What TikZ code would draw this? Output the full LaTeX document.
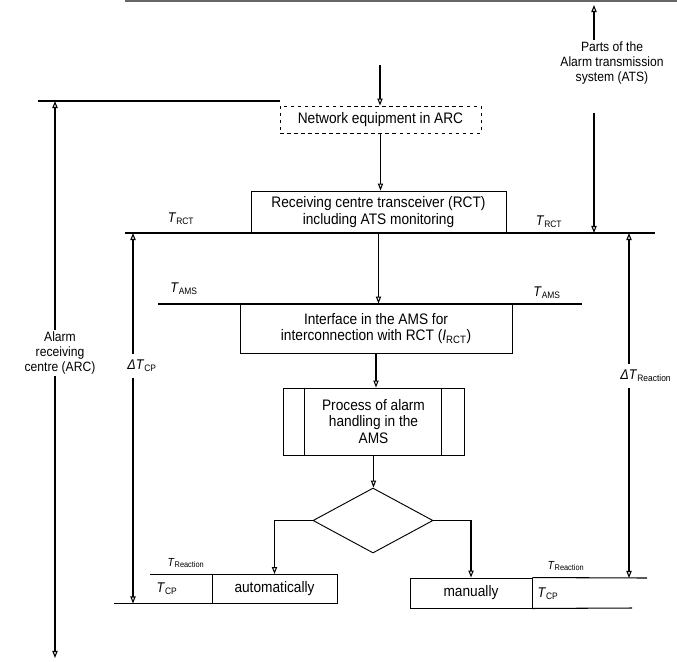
\documentclass[tikz,border=0pt]{standalone}
\usepackage{fontspec}
\setmainfont{Liberation Sans}[FakeStretch=0.9]
\usetikzlibrary{positioning,arrows.meta,shapes.geometric}
\newcommand\Tlab[1]{\textit{T}\textsubscript{#1}}

\begin{document}
\begin{tikzpicture}[x=0.03cm, y=-0.03cm, >={Triangle[open,length=6pt,width=4.5pt]},
    box/.style={draw, line width=0.8pt, align=center, inner sep=2pt, font=\fontsize{13}{14}\selectfont},
    flow/.style={->, line width=0.9pt},
    tline/.style={line width=0.9pt},
    tlab/.style={inner sep=1pt, font=\fontsize{12}{13}\selectfont},
    side/.style={align=center, fill=white, inner sep=1pt, font=\fontsize{11.5}{13}\selectfont}]
  \useasboundingbox (0,0) rectangle (677,661);
  \draw[black!60, line width=2pt] (125,1) -- (677,1);
  % boxes of the chain
  \node[box, dashed, minimum width=6.03cm, minimum height=0.81cm] (net) at (380.5,119.5) {Network equipment in ARC};
  \node[box, minimum width=7.65cm, minimum height=1.26cm] (rct) at (378.5,212) {Receiving centre transceiver (RCT)\\including ATS monitoring};
  \node[box, minimum width=8.16cm, minimum height=1.47cm] (iface) at (376,328.5) {Interface in the AMS for\\interconnection with RCT (\textit{I}\textsubscript{RCT})};
  \node[box, minimum width=5.43cm, minimum height=2.01cm] (proc) at (373.5,421.5) {Process of alarm\\handling in the\\AMS};
  \draw[line width=0.8pt] ([xshift=0.66cm]proc.north west) -- ([xshift=0.66cm]proc.south west);
  \draw[line width=0.8pt] ([xshift=-0.69cm]proc.north east) -- ([xshift=-0.69cm]proc.south east);
  \node[draw, diamond, line width=0.8pt, inner sep=0pt, aspect=1.85, minimum width=3.6cm, minimum height=1.95cm] (dec) at (373,520.5) {};
  \node[box, minimum width=3.75cm, minimum height=0.87cm] (auto) at (274.5,589) {automatically};
  \node[box, minimum width=3.66cm, minimum height=0.9cm] (man) at (471,593) {manually};
  % time lines
  \coordinate (arcL) at (38,101);
  \coordinate (rctL) at (125,233);
  \coordinate (rctR) at (655,233);
  \coordinate (amsL) at (158,304);
  \coordinate (amsR) at (582,304);
  \coordinate (reL) at (150,574.5);
  \coordinate (cpL) at (114,603.5);
  \coordinate (reR) at (647,578);
  \coordinate (cpR) at (632,608);
  \draw[tline] (arcL) -- (net.west |- arcL);
  \draw[tline] (rctL) -- (rctR);
  \draw[tline] (amsL) -- (amsR);
  \draw[tline] (reL) -- (reL -| auto.west);
  \draw[tline] (cpL) -- (cpL -| auto.west);
  \draw[tline] (man.north east) -- (reR);
  \draw[tline] (man.south east) -- (cpR);
  % flow
  \coordinate (in) at (380,65);
  \draw[flow] (in) -- (in |- net.north);
  \draw[flow] (net) -- (net |- rct.north);
  \draw[flow] (rct) -- (rct |- iface.north);
  \draw[flow] (iface) -- (iface |- proc.north);
  \draw[flow] (proc) -- (proc |- dec.north);
  \draw[flow] (dec.west) -| (auto.north);
  \draw[flow] (dec.east) -| (man.north);
  % spans
  \node[side] (arc) at (60,353) {Alarm\\receiving\\centre (ARC)};
  \coordinate (arcTop) at (55,101);
  \coordinate (arcBot) at (55,658);
  \draw[flow] (arc.north -| arcTop) -- (arcTop);
  \draw[flow] (arc.south -| arcBot) -- (arcBot);
  \node[side] (ats) at (612,63) {Parts of the\\Alarm transmission\\system (ATS)};
  \coordinate (atsTop) at (594,5);
  \coordinate (atsFoot) at (594,113);
  \coordinate (atsBot) at (594,233);
  \draw[flow] (ats.north -| atsTop) -- (atsTop);
  \draw[flow] (atsFoot) -- (atsBot);
  \node[tlab, anchor=west, fill=white, minimum height=0.72cm] (dcp) at (126,366) {\textit{Δ}\Tlab{CP}};
  \coordinate (cpTop) at (133,233);
  \coordinate (cpBot) at (133,603.5);
  \draw[flow] (dcp.north -| cpTop) -- (cpTop);
  \draw[flow] (dcp.south -| cpBot) -- (cpBot);
  \node[tlab, anchor=west, fill=white, minimum height=0.72cm] (dre) at (619,376) {\textit{Δ}\Tlab{Reaction}};
  \coordinate (reTop) at (629,233);
  \coordinate (reBot) at (629,578);
  \draw[flow] (dre.north -| reTop) -- (reTop);
  \draw[flow] (dre.south -| reBot) -- (reBot);
  % time labels
  \node[tlab] (trctL) at (181,219) {\Tlab{RCT}};
  \node[tlab] (trctR) at (549,222) {\Tlab{RCT}};
  \node[tlab] (tamsL) at (184,289) {\Tlab{AMS}};
  \node[tlab] (tamsR) at (547,293) {\Tlab{AMS}};
  \node[tlab, font=\fontsize{10}{11}\selectfont] (treL) at (186,563) {\Tlab{Reaction}};
  \node[tlab] (tcpL) at (167,589) {\Tlab{CP}};
  \node[tlab, font=\fontsize{10}{11}\selectfont] (treR) at (566,566) {\Tlab{Reaction}};
  \node[tlab] (tcpR) at (548,594) {\Tlab{CP}};
\end{tikzpicture}
\end{document}
